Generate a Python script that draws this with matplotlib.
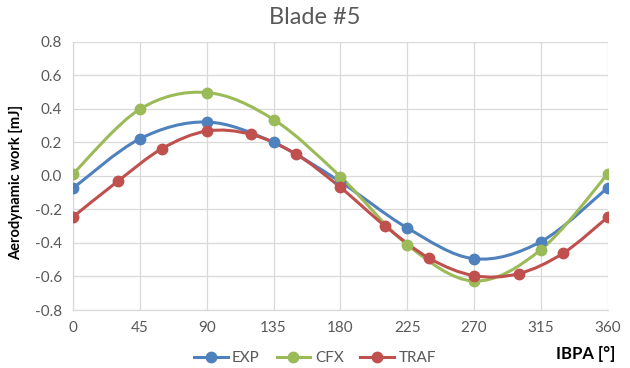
import matplotlib
matplotlib.use("Agg")
import matplotlib.pyplot as plt
from matplotlib.path import Path
from matplotlib.patches import PathPatch
from matplotlib.lines import Line2D
import numpy as np

plt.rcParams['font.family'] = ['Lato', 'DejaVu Sans']

# Data
exp_x = [0, 45, 90, 135, 180, 225, 270, 315, 360]
exp_y = [-0.073, 0.222, 0.322, 0.200, -0.035, -0.310, -0.494, -0.392, -0.070]

cfx_x = [0, 45, 90, 135, 180, 225, 270, 315, 360]
cfx_y = [0.013, 0.399, 0.498, 0.337, -0.004, -0.410, -0.627, -0.440, 0.012]

traf_x = [0, 30, 60, 90, 120, 150, 180, 210, 240, 270, 300, 330, 360]
traf_y = [-0.244, -0.032, 0.164, 0.268, 0.248, 0.131, -0.068, -0.298, -0.492,
          -0.595, -0.583, -0.461, -0.246]

x_ticks = [0, 45, 90, 135, 180, 225, 270, 315, 360]
y_ticks = [-0.8, -0.6, -0.4, -0.2, 0.0, 0.2, 0.4, 0.6, 0.8]

series = [
    ("EXP", exp_x, exp_y, "#4F81BD"),
    ("CFX", cfx_x, cfx_y, "#9BBB59"),
    ("TRAF", traf_x, traf_y, "#C0504D"),
]


def smooth_path(xs, ys):
    pts = np.column_stack([xs, ys]).astype(float)
    n = len(pts)
    verts = [pts[0]]
    codes = [Path.MOVETO]
    for i in range(n - 1):
        p0 = pts[i - 1] if i > 0 else pts[i]
        p1 = pts[i]
        p2 = pts[i + 1]
        p3 = pts[i + 2] if i + 2 < n else pts[i + 1]
        c1 = p1 + (p2 - p0) / 6.0
        c2 = p2 - (p3 - p1) / 6.0
        verts += [c1, c2, p2]
        codes += [Path.CURVE4] * 3
    return Path(verts, codes)


fig = plt.figure(figsize=(6.3, 3.68), dpi=100)
ax = fig.add_axes([0.116, 0.1576, 0.8486, 0.7284])

for name, xs, ys, col in series:
    patch = PathPatch(smooth_path(xs, ys), facecolor='none', edgecolor=col,
                      lw=2.2, zorder=3, capstyle='round')
    ax.add_patch(patch)
    ax.plot(xs, ys, linestyle='none', marker='o', markersize=7.5,
            color=col, zorder=4)

ax.set_xlim(0, 360)
ax.set_ylim(-0.8, 0.8)
ax.set_xticks(x_ticks)
ax.set_yticks(y_ticks)
ax.set_xticklabels([str(v) for v in x_ticks])
ax.set_yticklabels([f"{v:.1f}" for v in y_ticks])
ax.tick_params(axis='both', length=0, labelsize=11, colors='#595959', pad=8)
ax.grid(True, color='#d9d9d9', lw=0.9, zorder=0)
ax.set_axisbelow(True)
for s in ['top', 'right']:
    ax.spines[s].set_visible(False)
for s in ['left', 'bottom']:
    ax.spines[s].set_color('#d9d9d9')
    ax.spines[s].set_linewidth(0.9)

fig.text(0.5, 0.953, "Blade #5", ha='center', va='center', fontsize=17,
         color='#595959')
fig.text(0.026, 0.505, "Aerodynamic work [mJ]", rotation=90, ha='center',
         va='center', fontsize=10.5, fontweight='bold', color='black')
fig.text(0.977, 0.037, "IBPA [°]", ha='right', va='center', fontsize=12,
         fontweight='bold', color='black')

handles = [Line2D([0], [0], color=col, lw=2.2, marker='o', markersize=7.5)
           for _, _, _, col in series]
labels = [name for name, _, _, _ in series]
fig.legend(handles, labels, loc='center', bbox_to_anchor=(0.5, 0.027),
           ncol=3, frameon=False, fontsize=11, handlelength=2.2,
           handletextpad=0.3, columnspacing=1.1, labelcolor='#595959')

fig.savefig("out.png", dpi=100)
